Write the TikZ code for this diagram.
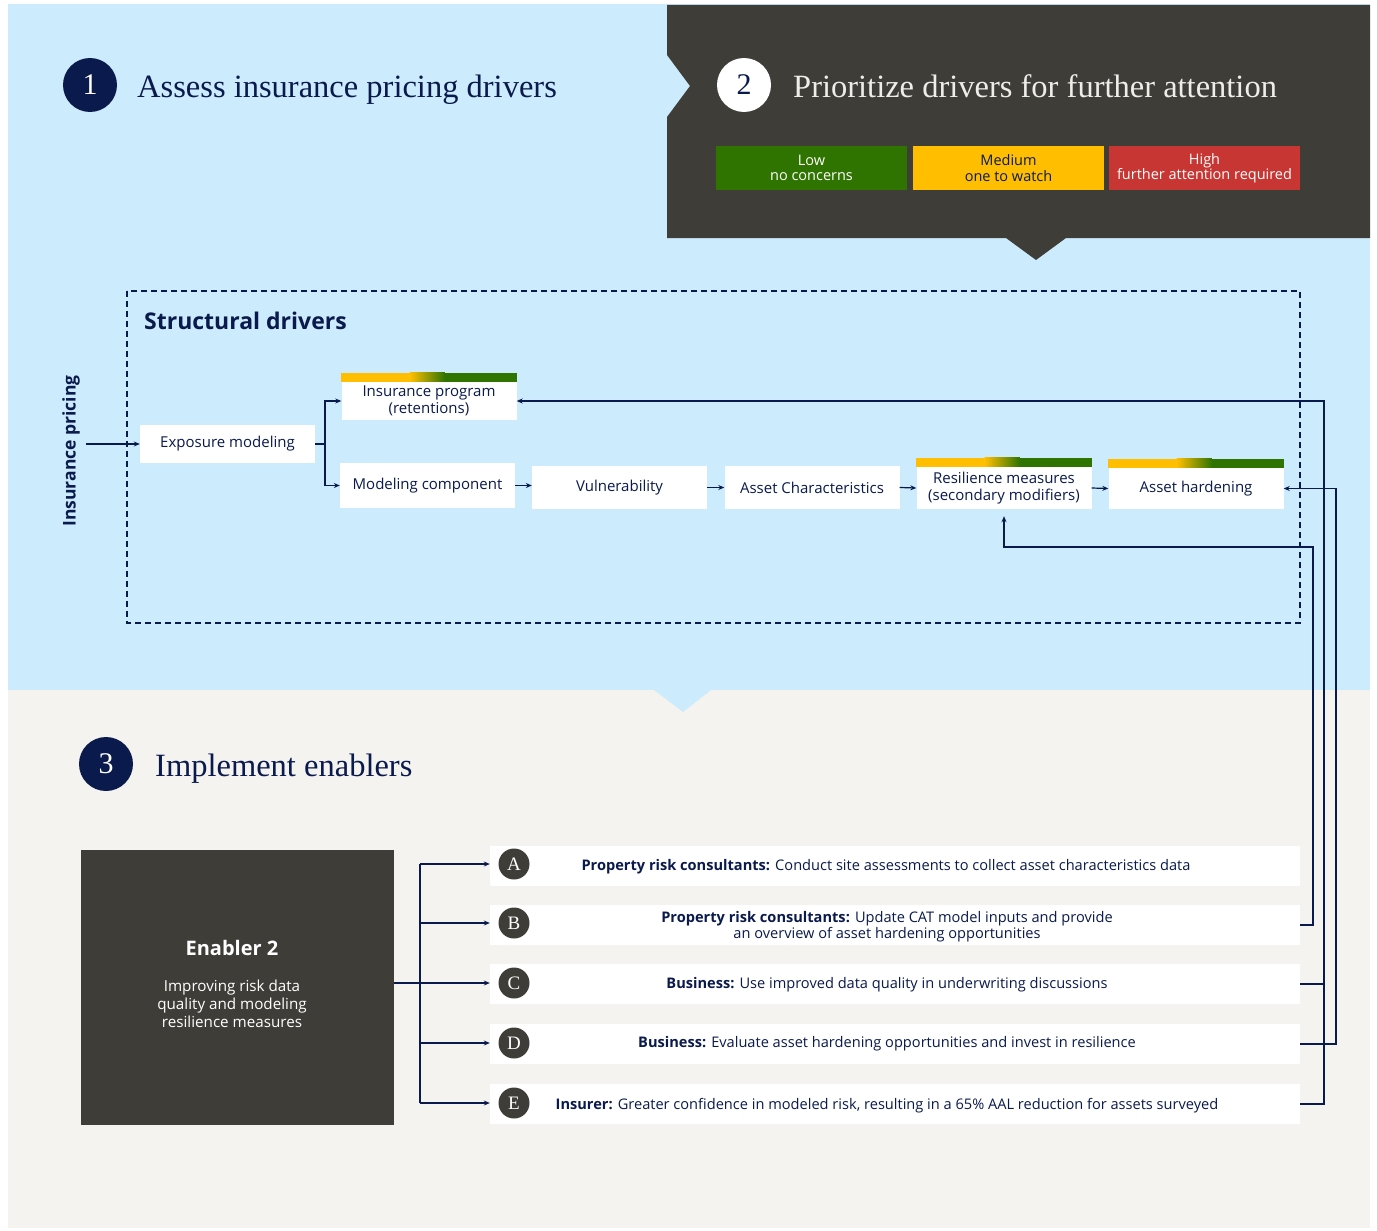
\documentclass[tikz,border=0pt]{standalone}
\usepackage{fontspec}
\setmainfont{Open Sans}
\newfontfamily\serifhead{Liberation Serif}
\usetikzlibrary{arrows.meta,calc}

\definecolor{sky}{HTML}{CCEBFC}
\definecolor{sand}{HTML}{F5F3EF}
\definecolor{panel}{HTML}{3E3D38}
\definecolor{navy}{HTML}{0A1A4D}
\definecolor{paper}{HTML}{EDEDE9}
\definecolor{lowgreen}{HTML}{307400}
\definecolor{medgold}{HTML}{FFBF00}
\definecolor{highred}{HTML}{C73632}

% gold-to-green strip on top of a driver box
\newcommand{\ratingbar}[1]{%
    \fill[medgold]
        (#1.north west) rectangle
        ($(#1.north west)!0.39!(#1.north east)+(0,-9)$);
    \shade[left color=medgold, right color=lowgreen]
        ($(#1.north west)!0.39!(#1.north east)$) rectangle
        ($(#1.north west)!0.59!(#1.north east)+(0,-9)$);
    \fill[lowgreen]
        ($(#1.north west)!0.59!(#1.north east)$) rectangle
        ($(#1.north east)+(0,-9)$);
}

\begin{document}
\begin{tikzpicture}[x=1pt, y=-1pt,
    link/.style={draw=navy, line width=1.2pt},
    arr/.style={link, -{Stealth[length=6pt, width=5pt]}},
    driver/.style={fill=white, text=navy, font=\fontsize{15}{16.5}\selectfont,
        align=center, minimum width=175pt, inner sep=0pt},
    rating/.style={minimum width=191pt, minimum height=44pt, inner sep=0pt,
        align=center, font=\fontsize{14.5}{15.5}\selectfont},
    stepmark/.style={circle, minimum size=54pt, inner sep=0pt,
        font=\serifhead\fontsize{30}{30}\selectfont},
    steptitle/.style={anchor=base west, inner sep=0pt,
        font=\serifhead\fontsize{32.5}{32.5}\selectfont},
    letter/.style={circle, fill=panel, text=white, minimum size=31pt,
        inner sep=0pt, font=\serifhead\fontsize{19}{19}\selectfont},
    action/.style={fill=white, minimum width=810pt, minimum height=40pt, inner sep=0pt},
    actiontext/.style={text=navy, align=center, inner sep=0pt,
        font=\fontsize{14.6}{16}\selectfont},
]

    \useasboundingbox (0,0) rectangle (1377,1231);

    % backgrounds
    \fill[white] (0,0) rectangle (1377,1231);
    \fill[sky] (8,4) rectangle (1370,690);
    \fill[sand] (8,690) rectangle (1370,1228);
    \fill[sky] (654,690) -- (683,712) -- (711,690) -- cycle;
    \fill[panel]
        (667,5) -- (1370,5) -- (1370,238) --
        (1066,238) -- (1036,260) -- (1006,238) --
        (667,238) -- (667,117) -- (690,86) -- (667,55) -- cycle;


    % step 1
    \node[stepmark, fill=navy, text=white] (stepone) at (90,85) {1};
    \node[steptitle, text=navy] (titleone) at (137,97)
        {Assess insurance pricing drivers};

    % step 2
    \node[stepmark, fill=white, text=navy] (steptwo) at (744,85) {2};
    \node[steptitle, text=paper] (titletwo) at (793,97)
        {Prioritize drivers for further attention};

    \node[rating, fill=lowgreen, text=white] (low) at (811.5,168)
        {Low\\no concerns};
    \node[rating, fill=medgold, text=navy] (medium) at (1008.5,168)
        {Medium\\one to watch};
    \node[rating, fill=highred, text=white] (high) at (1204.5,168)
        {High\\further attention required};


    % structural drivers
    \draw[navy, line width=1.2pt, dash pattern=on 6pt off 4pt]
        (127,291) rectangle (1300,623);
    \node[anchor=base west, inner sep=0pt, text=navy,
        font=\fontsize{23}{23}\selectfont\bfseries] (structural) at (144,329)
        {Structural drivers};

    \node[rotate=90, inner sep=0pt, text=navy,
        font=\fontsize{17.5}{17.5}\selectfont\bfseries] (pricing) at (71,451)
        {Insurance pricing};

    \node[driver, minimum height=38pt] (exposure) at (227.5,444) {Exposure modeling};
    \node[driver, minimum height=38pt] (insprog) at (429,401)
        {Insurance program\\(retentions)};
    \node[driver, minimum height=45pt] (modcomp) at (427.5,485.5) {Modeling component};
    \node[driver, minimum height=43pt] (vuln) at (619.5,487.5) {Vulnerability};
    \node[driver, minimum height=43pt] (assetchar) at (812,487.5) {Asset Characteristics};
    \node[driver, minimum height=42pt] (resil) at (1004,488)
        {Resilience measures\\(secondary modifiers)};
    \node[driver, minimum height=41pt] (harden) at (1196,488.5) {Asset hardening};

    \ratingbar{insprog}
    \ratingbar{resil}
    \ratingbar{harden}

    \draw[arr, shorten <=6pt] (pricing.south |- exposure.west) -- (exposure.west);

    \coordinate (fork) at (325,444);
    \draw[link] (exposure.east) -- (fork);
    \draw[arr] (fork) |- (insprog.west);
    \draw[arr] (fork) |- (modcomp.west);

    \draw[arr] (modcomp.east) -- (modcomp.east -| vuln.west);
    \draw[arr] (vuln.east) -- (assetchar.west);
    \draw[arr] (assetchar.east) -- (resil.west);
    \draw[arr] (resil.east) -- (harden.west);


    % step 3
    \node[stepmark, fill=navy, text=white] (stepthree) at (106,764) {3};
    \node[steptitle, text=navy] (titlethree) at (155,776) {Implement enablers};

    \node[fill=panel, minimum width=313pt, minimum height=275pt, inner sep=0pt]
        (enabler) at (237.5,987.5) {};
    \node[text=white, inner sep=0pt, font=\fontsize{20}{20}\selectfont\bfseries]
        (enablertitle) at (232,948) {Enabler 2};
    \node[text=white, inner sep=0pt, align=center, font=\fontsize{15.2}{18}\selectfont]
        (enablerbody) at (232,1004)
        {Improving risk data\\quality and modeling\\resilience measures};


    % actions
    \node[action] (rowA) at (895,866) {};
    \node[letter] (letA) at (514,864) {A};
    \node[actiontext] (textA) at (886,867)
        {\textbf{Property risk consultants:} Conduct site assessments to collect asset characteristics data};

    \node[action] (rowB) at (895,925) {};
    \node[letter] (letB) at (514,923) {B};
    \node[actiontext] (textB) at (887,927)
        {\textbf{Property risk consultants:} Update CAT model inputs and provide\\an overview of asset hardening opportunities};

    \node[action] (rowC) at (895,984) {};
    \node[letter] (letC) at (514,983) {C};
    \node[actiontext] (textC) at (887,985)
        {\textbf{Business:} Use improved data quality in underwriting discussions};

    \node[action] (rowD) at (895,1044) {};
    \node[letter] (letD) at (514,1043) {D};
    \node[actiontext] (textD) at (887,1044)
        {\textbf{Business:} Evaluate asset hardening opportunities and invest in resilience};

    \node[action] (rowE) at (895,1104) {};
    \node[letter] (letE) at (514,1103) {E};
    \node[actiontext] (textE) at (887,1106)
        {\textbf{Insurer:} Greater confidence in modeled risk, resulting in a 65\% AAL reduction for assets surveyed};

    % enabler to actions
    \coordinate (split) at (420,983);
    \draw[link] (enabler.east |- split) -- (split);
    \draw[link] (split |- letA) -- (split |- letE);
    \draw[arr] (split |- letA) -- (letA -| rowA.west);
    \draw[arr] (split |- letB) -- (letB -| rowB.west);
    \draw[arr] (split |- letC) -- (letC -| rowC.west);
    \draw[arr] (split |- letD) -- (letD -| rowD.west);
    \draw[arr] (split |- letE) -- (letE -| rowE.west);


    % feedback into the drivers
    \coordinate (busB) at (1313,547);
    \draw[arr, shorten >=7pt] (rowB.east) -| (busB) -| (resil.south);

    \coordinate (busCE) at (insprog.east -| 1324,0);
    \draw[arr] (rowE.east) -| (busCE) -- (insprog.east);
    \draw[link] (rowC.east) -- (rowC.east -| busCE);

    \coordinate (busD) at (harden.east -| 1336,0);
    \draw[arr] (rowD.east) -| (busD) -- (harden.east);

\end{tikzpicture}
\end{document}
